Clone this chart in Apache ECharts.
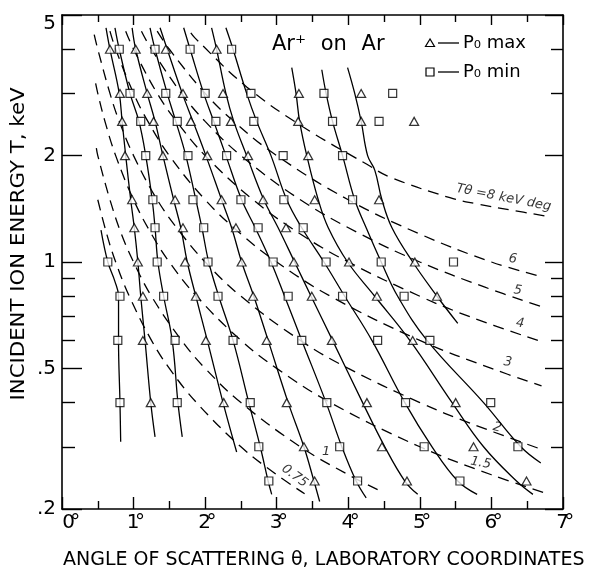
<!DOCTYPE html>
<html>
<head>
<meta charset="utf-8">
<script src="https://cdn.jsdelivr.net/npm/echarts@6/dist/echarts.min.js"></script>
<style>
  html, body { margin: 0; padding: 0; background: #fff; }
  #chart { width: 592px; height: 572px; }
</style>
</head>
<body>
<div id="chart"></div>
<script>
// Ar+ on Ar: angle of scattering (deg, lab frame) vs incident ion energy T (keV).
// Points are [theta, T].

// Axis ticks
const energyMajor = [0.2, 0.5, 1, 2, 5];
const energyMajorLabels = ['.2', '.5', '1', '2', '5'];
const energyMinor = [0.3, 0.4, 0.6, 0.7, 0.8, 0.9, 3, 4];

// Measured positions of P0 maxima (triangles)
const maxPoints = [
  [0.67, 4], [1.03, 4], [1.45, 4], [2.16, 4],
  [0.81, 3], [1.19, 3], [1.69, 3], [2.25, 3], [3.31, 3], [4.18, 3],
  [0.84, 2.5], [1.28, 2.5], [1.80, 2.5], [2.36, 2.5], [3.30, 2.5], [4.18, 2.5], [4.92, 2.5],
  [0.88, 2], [1.41, 2], [2.03, 2], [2.60, 2], [3.44, 2],
  [0.98, 1.5], [1.58, 1.5], [2.23, 1.5], [2.81, 1.5], [3.53, 1.5], [4.43, 1.5],
  [1.01, 1.25], [1.69, 1.25], [2.43, 1.25], [3.13, 1.25],
  [1.06, 1], [1.72, 1], [2.51, 1], [3.24, 1], [4.01, 1], [4.93, 1],
  [1.13, 0.8], [1.87, 0.8], [2.67, 0.8], [3.49, 0.8], [4.40, 0.8], [5.24, 0.8],
  [1.13, 0.6], [2.01, 0.6], [2.86, 0.6], [3.77, 0.6], [4.90, 0.6],
  [1.24, 0.4], [2.26, 0.4], [3.14, 0.4], [4.26, 0.4], [5.50, 0.4],
  [3.38, 0.3], [4.47, 0.3], [5.75, 0.3],
  [3.53, 0.24], [4.82, 0.24], [6.49, 0.24]
];

// Measured positions of P0 minima (squares)
const minPoints = [
  [0.80, 4], [1.30, 4], [1.79, 4], [2.37, 4],
  [0.95, 3], [1.45, 3], [2.00, 3], [2.64, 3], [3.66, 3], [4.62, 3],
  [1.10, 2.5], [1.61, 2.5], [2.15, 2.5], [2.68, 2.5], [3.78, 2.5], [4.43, 2.5],
  [1.17, 2], [1.76, 2], [2.30, 2], [3.09, 2], [3.92, 2],
  [1.27, 1.5], [1.83, 1.5], [2.50, 1.5], [3.10, 1.5], [4.06, 1.5],
  [1.30, 1.25], [1.98, 1.25], [2.74, 1.25], [3.37, 1.25],
  [0.64, 1], [1.33, 1], [2.04, 1], [2.95, 1], [3.69, 1], [4.46, 1], [5.47, 1],
  [0.81, 0.8], [1.42, 0.8], [2.18, 0.8], [3.16, 0.8], [3.92, 0.8], [4.78, 0.8],
  [0.78, 0.6], [1.58, 0.6], [2.39, 0.6], [3.35, 0.6], [4.41, 0.6], [5.14, 0.6],
  [0.81, 0.4], [1.61, 0.4], [2.63, 0.4], [3.70, 0.4], [4.80, 0.4], [5.99, 0.4],
  [2.75, 0.3], [3.88, 0.3], [5.06, 0.3], [6.37, 0.3],
  [2.89, 0.24], [4.13, 0.24], [5.56, 0.24]
];

// Fitted curves through the extrema
const minCurve1 = [[0.545, 1.23], [0.64, 1.0], [0.74, 0.88], [0.79, 0.8], [0.79, 0.6], [0.81, 0.4], [0.82, 0.31]];
const maxCurve2 = [[0.615, 4.6], [0.67, 4.0], [0.80, 3.0], [0.84, 2.5], [0.89, 2.0], [0.96, 1.5], [1.01, 1.25], [1.06, 1.0], [1.10, 0.8], [1.16, 0.6], [1.24, 0.4], [1.30, 0.32]];
const minCurve3 = [[0.74, 4.6], [0.80, 4.0], [0.95, 3.0], [1.075, 2.5], [1.17, 2.0], [1.26, 1.5], [1.30, 1.25], [1.34, 1.0], [1.42, 0.8], [1.54, 0.6], [1.62, 0.4], [1.68, 0.32]];
const maxCurve4 = [[0.98, 4.6], [1.03, 4.0], [1.19, 3.0], [1.30, 2.5], [1.41, 2.0], [1.56, 1.5], [1.66, 1.25], [1.75, 1.0], [1.87, 0.8], [2.03, 0.6], [2.25, 0.4], [2.44, 0.29]];
const minCurve5 = [[1.23, 4.6], [1.30, 4.0], [1.47, 3.0], [1.59, 2.5], [1.73, 2.0], [1.87, 1.5], [1.955, 1.25], [2.05, 1.0], [2.19, 0.8], [2.39, 0.6], [2.61, 0.4], [2.77, 0.3], [2.88, 0.24], [2.93, 0.22]];
const maxCurve6 = [[1.37, 4.6], [1.47, 4.0], [1.68, 3.0], [1.83, 2.5], [2.01, 2.0], [2.23, 1.5], [2.37, 1.25], [2.51, 1.0], [2.68, 0.8], [2.88, 0.6], [3.16, 0.4], [3.38, 0.3], [3.52, 0.24], [3.60, 0.21]];
const minCurve7 = [[1.70, 4.6], [1.79, 4.0], [1.98, 3.0], [2.12, 2.5], [2.29, 2.0], [2.51, 1.5], [2.70, 1.25], [2.92, 1.0], [3.11, 0.8], [3.35, 0.6], [3.69, 0.4], [3.91, 0.3], [4.11, 0.24], [4.25, 0.215]];
const maxCurve8 = [[2.09, 4.6], [2.16, 4.0], [2.29, 3.0], [2.40, 2.5], [2.58, 2.0], [2.82, 1.5], [3.02, 1.25], [3.25, 1.0], [3.48, 0.8], [3.78, 0.6], [4.20, 0.4], [4.51, 0.3], [4.79, 0.24], [4.97, 0.22]];
const minCurve9 = [[2.29, 4.6], [2.39, 4.0], [2.58, 3.0], [2.72, 2.5], [2.92, 2.0], [3.14, 1.5], [3.35, 1.25], [3.66, 1.0], [3.95, 0.8], [4.33, 0.6], [4.79, 0.4], [5.17, 0.3], [5.53, 0.24], [5.80, 0.22]];
const maxCurve10 = [[3.21, 3.55], [3.27, 3.0], [3.32, 2.5], [3.42, 2.0], [3.58, 1.5], [3.72, 1.25], [3.99, 1.0], [4.37, 0.8], [4.86, 0.6], [5.45, 0.4], [5.89, 0.3], [6.35, 0.24], [6.58, 0.22]];
const minCurve11 = [[3.63, 3.5], [3.69, 3.0], [3.78, 2.5], [3.92, 2.0], [4.09, 1.5], [4.25, 1.25], [4.46, 1.0], [4.69, 0.8], [5.10, 0.6], [5.89, 0.4], [6.41, 0.3], [6.69, 0.27]];
const maxCurve12 = [[3.99, 3.55], [4.09, 3.0], [4.18, 2.5], [4.27, 2.0], [4.37, 1.82], [4.47, 1.5], [4.61, 1.25], [4.90, 1.0], [5.24, 0.8], [5.53, 0.67]];

// Lines of constant T*theta (keV deg)
const tTheta075 = [[0.50, 1.5], [0.625, 1.2], [0.75, 1.0], [0.94, 0.8], [1.25, 0.6], [1.5, 0.5], [1.88, 0.4], [2.5, 0.3], [3.0, 0.25], [3.39, 0.221]];
const tTheta1 = [[0.48, 2.1], [0.50, 2.0], [0.67, 1.5], [0.83, 1.2], [1.0, 1.0], [1.25, 0.8], [1.67, 0.6], [2.0, 0.5], [2.5, 0.4], [3.33, 0.3], [4.0, 0.25], [4.41, 0.227]];
const tTheta15 = [[0.47, 3.2], [0.50, 3.0], [0.60, 2.5], [0.75, 2.0], [1.0, 1.5], [1.25, 1.2], [1.5, 1.0], [1.88, 0.8], [2.5, 0.6], [3.0, 0.5], [3.75, 0.4], [5.0, 0.3], [6.0, 0.25], [6.78, 0.221]];
const tTheta2 = [[0.45, 4.4], [0.5, 4.0], [0.67, 3.0], [0.8, 2.5], [1.0, 2.0], [1.33, 1.5], [1.67, 1.2], [2.0, 1.0], [2.5, 0.8], [3.33, 0.6], [4.0, 0.5], [5.0, 0.4], [5.7, 0.35], [6.72, 0.294]];
const tTheta3 = [[0.67, 4.5], [0.75, 4.0], [1.0, 3.0], [1.2, 2.5], [1.5, 2.0], [2.0, 1.5], [2.5, 1.2], [3.0, 1.0], [3.75, 0.8], [5.0, 0.6], [6.0, 0.5], [6.70, 0.446]];
const tTheta4 = [[0.89, 4.5], [1.0, 4.0], [1.33, 3.0], [1.6, 2.5], [2.0, 2.0], [2.67, 1.5], [3.33, 1.2], [4.0, 1.0], [5.0, 0.8], [5.7, 0.7], [6.72, 0.593]];
const tTheta5 = [[1.11, 4.5], [1.25, 4.0], [1.67, 3.0], [2.0, 2.5], [2.5, 2.0], [3.33, 1.5], [4.17, 1.2], [5.0, 1.0], [5.9, 0.85], [6.72, 0.745]];
const tTheta6 = [[1.33, 4.5], [1.5, 4.0], [2.0, 3.0], [2.4, 2.5], [3.0, 2.0], [4.0, 1.5], [5.0, 1.2], [6.0, 1.0], [6.72, 0.907]];
const tTheta8 = [[1.80, 4.45], [1.86, 4.3], [2.58, 3.13], [3.37, 2.41], [4.26, 1.89], [4.58, 1.74], [5.42, 1.52], [5.80, 1.46], [6.30, 1.40], [6.75, 1.35]];

// Curve labels and where they sit [theta, T]
const curveLabelText = ['Tθ =8 keV deg', '6', '5', '4', '3', '2', '1.5', '1', '0.75'];
const curveLabelAt = [[6.17, 1.52], [6.30, 1.02], [6.37, 0.83], [6.40, 0.67], [6.23, 0.52], [6.08, 0.34], [5.85, 0.27], [3.69, 0.29], [3.25, 0.248]];

const FONT = 'DejaVu Sans';
const INK = '#000';
const curveLabelRotate = [-11, -8, -8, -8, -8, -15, -10, 0, -37];

const solidCurves = [minCurve1, maxCurve2, minCurve3, maxCurve4, minCurve5, maxCurve6,
  minCurve7, maxCurve8, minCurve9, maxCurve10, minCurve11, maxCurve12];
const dashedCurves = [tTheta075, tTheta1, tTheta15, tTheta2, tTheta3, tTheta4, tTheta5, tTheta6, tTheta8];

function energyLabel(v) {
  for (let i = 0; i < energyMajor.length; i++) {
    if (Math.abs(v - energyMajor[i]) < 1e-6 * energyMajor[i]) {
      return i === energyMajor.length - 1 ? '{top|' + energyMajorLabels[i] + '}' : energyMajorLabels[i];
    }
  }
  return '';
}

// degree labels: the digit sits on the tick, the degree sign trails it
function angleLabel(v) {
  return (v === 0 ? '{z|' : '{d|') + v + '}{s|°}';
}

const series = [];
solidCurves.forEach(function (c) {
  series.push({
    type: 'line', data: c, smooth: 0.4, symbol: 'none', silent: true, z: 2,
    lineStyle: { color: INK, width: 1.3 }
  });
});
dashedCurves.forEach(function (c) {
  series.push({
    type: 'line', data: c, smooth: 0.4, symbol: 'none', silent: true, z: 2,
    lineStyle: { color: INK, width: 1.3, type: [11, 7] }
  });
});
series.push({
  type: 'scatter', name: 'P0 max', data: maxPoints, symbol: 'triangle', symbolSize: [9, 8], z: 4,
  itemStyle: { color: '#fff', borderColor: INK, borderWidth: 1.2 }
});
series.push({
  type: 'scatter', name: 'P0 min', data: minPoints, symbol: 'rect', symbolSize: 8, z: 4,
  itemStyle: { color: '#fff', borderColor: INK, borderWidth: 1.2 }
});
series.push({
  type: 'scatter', symbolSize: 1, z: 5, silent: true,
  itemStyle: { color: 'rgba(0,0,0,0)' },
  data: curveLabelText.map(function (t, i) {
    return { name: t, value: curveLabelAt[i], label: { rotate: curveLabelRotate[i] } };
  }),
  label: {
    show: true, position: 'inside', formatter: '{b}', color: INK,
    fontFamily: FONT, fontStyle: 'italic', fontSize: 13
  }
});

const tickLine = { color: INK, width: 1.4 };
const yBase = {
  type: 'log', logBase: 10, min: 0.2, max: 5,
  splitLine: { show: false }, minorTick: { show: false }, minorSplitLine: { show: false }
};

const option = {
  animation: false,
  backgroundColor: '#fff',
  grid: { left: 62, right: 29, top: 15, bottom: 63 },
  xAxis: [
    {
      type: 'value', min: 0, max: 7, interval: 1, position: 'bottom',
      axisLine: { show: true, lineStyle: { color: INK, width: 1.6 } },
      axisTick: { show: true, inside: true, length: 12, lineStyle: tickLine },
      minorTick: { show: true, splitNumber: 2, length: 8, lineStyle: tickLine },
      splitLine: { show: false }, minorSplitLine: { show: false },
      axisLabel: {
        margin: 4, color: INK, fontFamily: FONT, fontSize: 20,
        formatter: angleLabel,
        rich: {
          d: { color: INK, fontFamily: FONT, fontSize: 20 },
          z: { color: INK, fontFamily: FONT, fontSize: 20, padding: [0, 0, 0, 14] },
          s: { color: INK, fontFamily: FONT, fontSize: 20, width: 1 }
        }
      }
    },
    {
      type: 'value', min: 0, max: 7, interval: 1, position: 'top',
      axisLine: { show: true, lineStyle: { color: INK, width: 1.6 } },
      axisTick: { show: true, inside: true, length: 10, lineStyle: tickLine },
      minorTick: { show: true, splitNumber: 2, length: 7, lineStyle: tickLine },
      splitLine: { show: false }, minorSplitLine: { show: false },
      axisLabel: { show: false }
    }
  ],
  yAxis: [
    Object.assign({}, yBase, {
      position: 'left',
      axisLine: { show: true, lineStyle: { color: INK, width: 1.6 } },
      axisTick: { show: true, inside: true, length: 20, lineStyle: tickLine, customValues: energyMajor },
      axisLabel: {
        customValues: energyMajor, margin: 6, color: INK, fontFamily: FONT, fontSize: 20,
        formatter: energyLabel,
        rich: { top: { color: INK, fontFamily: FONT, fontSize: 20, padding: [18, 0, 0, 0] } }
      }
    }),
    Object.assign({}, yBase, {
      position: 'left',
      axisLine: { show: false },
      axisTick: { show: true, inside: true, length: 13, lineStyle: tickLine, customValues: energyMinor },
      axisLabel: { show: false }
    }),
    Object.assign({}, yBase, {
      position: 'right',
      axisLine: { show: true, lineStyle: { color: INK, width: 1.6 } },
      axisTick: { show: true, inside: true, length: 18, lineStyle: tickLine, customValues: energyMajor },
      axisLabel: { show: false }
    }),
    Object.assign({}, yBase, {
      position: 'right',
      axisLine: { show: false },
      axisTick: { show: true, inside: true, length: 12, lineStyle: tickLine, customValues: energyMinor },
      axisLabel: { show: false }
    })
  ],
  graphic: [
    {
      type: 'text', x: 272, y: 45,
      style: {
        text: 'Ar⁺ {g|on} {g|Ar}', fill: INK, fontFamily: FONT, fontSize: 21,
        textAlign: 'left', textVerticalAlign: 'middle', align: 'left', verticalAlign: 'middle',
        rich: { g: { fill: INK, fontFamily: FONT, fontSize: 21, padding: [0, 0, 0, 8] } }
      }
    },
    { type: 'polygon', shape: { points: [[430, 39], [425.5, 46.5], [434.5, 46.5]] }, style: { fill: '#fff', stroke: INK, lineWidth: 1.2 } },
    { type: 'line', shape: { x1: 438, y1: 43, x2: 459, y2: 43 }, style: { stroke: INK, lineWidth: 1.3 } },
    {
      type: 'text', x: 463, y: 43,
      style: { text: 'P₀ max', fill: INK, fontFamily: FONT, fontSize: 18, textAlign: 'left', textVerticalAlign: 'middle', align: 'left', verticalAlign: 'middle' }
    },
    { type: 'rect', shape: { x: 426, y: 68, width: 8, height: 8 }, style: { fill: '#fff', stroke: INK, lineWidth: 1.2 } },
    { type: 'line', shape: { x1: 438, y1: 72, x2: 459, y2: 72 }, style: { stroke: INK, lineWidth: 1.3 } },
    {
      type: 'text', x: 463, y: 72,
      style: { text: 'P₀ min', fill: INK, fontFamily: FONT, fontSize: 18, textAlign: 'left', textVerticalAlign: 'middle', align: 'left', verticalAlign: 'middle' }
    },
    {
      type: 'text', x: 19, y: 244, rotation: Math.PI / 2, scaleX: 1.12,
      style: { text: 'INCIDENT ION ENERGY T, keV', fill: INK, fontFamily: FONT, fontSize: 19, textAlign: 'center', textVerticalAlign: 'middle', align: 'center', verticalAlign: 'middle' }
    },
    {
      type: 'text', x: 63, y: 560,
      style: { text: 'ANGLE OF SCATTERING θ, LABORATORY COORDINATES', fill: INK, fontFamily: FONT, fontSize: 19, textAlign: 'left', textVerticalAlign: 'middle', align: 'left', verticalAlign: 'middle' }
    }
  ],
  series: series
};

const chart = echarts.init(document.getElementById('chart'), null, { renderer: 'canvas' });
chart.setOption(option);
</script>
</body>
</html>
